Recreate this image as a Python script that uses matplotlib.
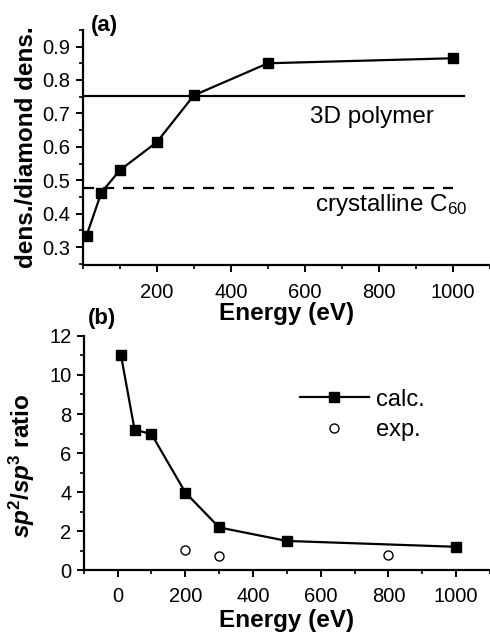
import matplotlib
matplotlib.use("Agg")
import matplotlib.pyplot as plt
from matplotlib.ticker import MultipleLocator

plt.rcParams["font.family"] = ["Liberation Sans", "DejaVu Sans"]
plt.rcParams["mathtext.fontset"] = "custom"
plt.rcParams["mathtext.rm"] = "Liberation Sans"
plt.rcParams["mathtext.bf"] = "Liberation Sans:bold"
plt.rcParams["mathtext.it"] = "Liberation Sans:italic"
plt.rcParams["mathtext.bfit"] = "Liberation Sans:bold:italic"

# panel (a): density relative to diamond
energy = [10, 50, 100, 200, 300, 500, 1000]
density = [0.334, 0.463, 0.53, 0.614, 0.754, 0.85, 0.865]
polymer_level = 0.751
c60_level = 0.478

# panel (b): sp2/sp3 ratio
ratio_calc = [11.0, 7.2, 6.97, 3.98, 2.19, 1.5, 1.2]
energy_exp = [200, 300, 800]
ratio_exp = [1.06, 0.73, 0.8]

fig = plt.figure(figsize=(4.9, 6.35), dpi=100)
ax1 = fig.add_axes([0.169, 0.583, 0.831, 0.370])
ax2 = fig.add_axes([0.171, 0.102, 0.829, 0.369])


def style_axes(ax, pad):
    for side in ["top", "right"]:
        ax.spines[side].set_visible(False)
    for side in ["left", "bottom"]:
        ax.spines[side].set_linewidth(1.6)
    ax.tick_params(which="major", direction="out", length=5, width=1.4, labelsize=14.5, pad=4)
    ax.tick_params(which="minor", direction="out", length=3, width=1.2)
    ax.tick_params(axis="x", which="major", pad=pad)


# (a)
ax1.plot(energy, density, "k-s", linewidth=1.6, markersize=6.5)
ax1.plot([0, 1030], [polymer_level, polymer_level], "k-", linewidth=1.6)
ax1.plot([0, 1000], [c60_level, c60_level], "k--", linewidth=1.6, dashes=(5, 4))
ax1.text(780, 0.69, "3D polymer", fontsize=17.5, ha="center", va="center")
ax1.text(1038, 0.427, "crystalline C$_{60}$", fontsize=17.5, ha="right", va="center")
ax1.set_xlim(0, 1100)
ax1.set_ylim(0.247, 0.95)
ax1.xaxis.set_minor_locator(MultipleLocator(100))
ax1.yaxis.set_minor_locator(MultipleLocator(0.05))
ax1.set_xticks([200, 400, 600, 800, 1000])
ax1.set_yticks([0.3, 0.4, 0.5, 0.6, 0.7, 0.8, 0.9])
style_axes(ax1, pad=8)
ax1.set_xlabel("Energy (eV)", fontsize=17.5, fontweight="bold", labelpad=0)
ax1.set_ylabel("dens./diamond dens.", fontsize=17.5, fontweight="bold", labelpad=3)
ax1.text(0.02, 1.02, "(a)", transform=ax1.transAxes, fontsize=16, fontweight="bold",
         va="center", ha="left")

# (b)
ax2.plot(energy, ratio_calc, "k-s", linewidth=1.6, markersize=6.5, label="calc.")
ax2.plot(energy_exp, ratio_exp, "o", markerfacecolor="white", markeredgecolor="k",
         markersize=6.5, markeredgewidth=1.0, label="exp.")
ax2.set_xlim(-100, 1100)
ax2.set_ylim(0, 12)
ax2.xaxis.set_major_locator(MultipleLocator(200))
ax2.xaxis.set_minor_locator(MultipleLocator(100))
ax2.yaxis.set_major_locator(MultipleLocator(2))
ax2.yaxis.set_minor_locator(MultipleLocator(1))
style_axes(ax2, pad=7)
ax2.set_xlabel("Energy (eV)", fontsize=17.5, fontweight="bold", labelpad=2)
ax2.set_ylabel(r"$\mathbfit{sp}^{\mathbf{2}}\mathbf{/}\mathbfit{sp}^{\mathbf{3}}$ ratio",
               fontsize=17.5, fontweight="bold")
ax2.yaxis.set_label_coords(-0.115, 0.445)
ax2.text(0.01, 1.075, "(b)", transform=ax2.transAxes, fontsize=16, fontweight="bold",
         va="center", ha="left")
ax2.legend(loc="upper right", bbox_to_anchor=(0.862, 0.815), frameon=False, fontsize=17,
           handlelength=2.9, handletextpad=0.3, labelspacing=0.35, borderaxespad=0)

fig.savefig("out.png", dpi=100)
